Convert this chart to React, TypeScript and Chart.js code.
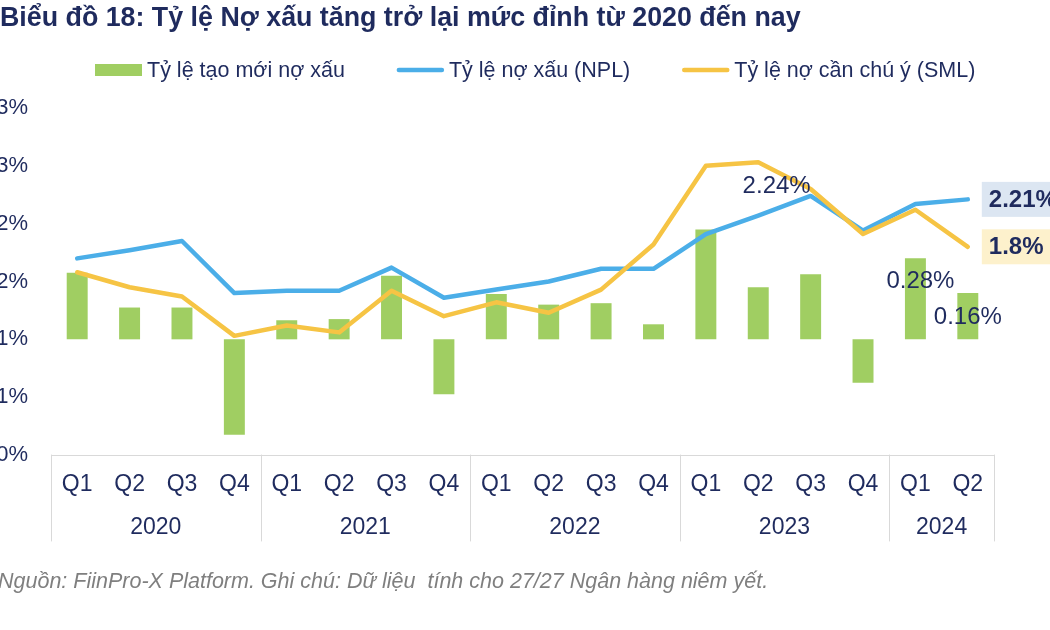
import React, { useEffect, useRef } from "react";
import { Chart, registerables } from "chart.js";

Chart.register(...registerables);

const quarters = ["Q1", "Q2", "Q3", "Q4", "Q1", "Q2", "Q3", "Q4", "Q1", "Q2", "Q3", "Q4", "Q1", "Q2", "Q3", "Q4", "Q1", "Q2"];
const years = ["2020", "2021", "2022", "2023", "2024"];
const yearSpans = [4, 4, 4, 4, 2];
const newNplRate = [0.23, 0.11, 0.11, -0.33, 0.066, 0.07, 0.22, -0.19, 0.157, 0.12, 0.125, 0.052, 0.38, 0.18, 0.225, -0.15, 0.28, 0.16];
const nplRatio = [1.7, 1.77, 1.85, 1.4, 1.42, 1.42, 1.62, 1.36, 1.43, 1.5, 1.61, 1.61, 1.91, 2.07, 2.24, 1.94, 2.17, 2.21];
const smlRatio = [1.58, 1.45, 1.37, 1.03, 1.12, 1.06, 1.42, 1.2, 1.32, 1.23, 1.43, 1.82, 2.5, 2.53, 2.3, 1.91, 2.12, 1.8];
const leftTicks = [0, 0.5, 1, 1.5, 2, 2.5, 3];
const seriesNames = ["Tỷ lệ tạo mới nợ xấu", "Tỷ lệ nợ xấu (NPL)", "Tỷ lệ nợ cần chú ý (SML)"];
const titleText = "Biểu đồ 18: Tỷ lệ Nợ xấu tăng trở lại mức đỉnh từ 2020 đến nay";
const footText = "Nguồn: FiinPro-X Platform. Ghi chú: Dữ liệu  tính cho 27/27 Ngân hàng niêm yết.";

const NAVY = "#1F2B5E";
const GREEN = "#A0CE62";
const BLUE = "#4BAEE8";
const YELLOW = "#F6C444";
const FONT = "'Liberation Sans', Arial, sans-serif";

const decorPlugin = {
  id: "decor",
  afterDatasetsDraw(chart: any) {
    const ctx = chart.ctx;
    const x = chart.scales.x;
    const y = chart.scales.y;
    const y1 = chart.scales.y1;
    ctx.save();
    // point labels
    ctx.fillStyle = NAVY;
    ctx.textBaseline = "middle";
    ctx.textAlign = "center";
    ctx.font = `24px ${FONT}`;
    const i24 = 14;
    ctx.fillText(nplRatio[i24].toFixed(2) + "%", x.getPixelForValue(i24) - 34, y.getPixelForValue(nplRatio[i24]) - 10);
    const b1 = 16;
    ctx.fillText(newNplRate[b1].toFixed(2) + "%", x.getPixelForValue(b1) + 5, y1.getPixelForValue(newNplRate[b1]) + 23);
    const b2 = 17;
    ctx.fillText(newNplRate[b2].toFixed(2) + "%", x.getPixelForValue(b2), y1.getPixelForValue(newNplRate[b2]) + 24);

    // end value boxes
    const last = nplRatio.length - 1;
    const lx = x.getPixelForValue(last);
    const boxes = [
      { v: nplRatio[last], text: nplRatio[last].toFixed(2) + "%", bg: "#DCE6F2" },
      { v: smlRatio[last], text: smlRatio[last].toFixed(1) + "%", bg: "#FDF1CC" },
    ];
    ctx.font = `bold 24px ${FONT}`;
    ctx.textAlign = "left";
    for (const b of boxes) {
      const cy = y.getPixelForValue(b.v);
      ctx.fillStyle = b.bg;
      ctx.fillRect(lx + 14, cy - 17.5, 100, 35);
      ctx.fillStyle = NAVY;
      ctx.fillText(b.text, lx + 21, cy + 1);
    }
    ctx.restore();
  },
  afterDraw(chart: any) {
    const ctx = chart.ctx;
    const x = chart.scales.x;
    const area = chart.chartArea;
    ctx.save();
    // title
    ctx.fillStyle = NAVY;
    ctx.textBaseline = "middle";
    ctx.textAlign = "left";
    ctx.font = `bold 26.8px ${FONT}`;
    ctx.fillText(titleText, 0, 19);

    // legend
    ctx.font = `21.5px ${FONT}`;
    let lx = 95;
    const ly = 70;
    const colors = [GREEN, BLUE, YELLOW];
    seriesNames.forEach((name, i) => {
      if (i === 0) {
        ctx.fillStyle = GREEN;
        ctx.fillRect(lx, ly - 6, 47, 12);
      } else {
        ctx.strokeStyle = colors[i];
        ctx.lineWidth = 4.5;
        ctx.lineCap = "round";
        ctx.beginPath();
        ctx.moveTo(lx + 2, ly);
        ctx.lineTo(lx + 45, ly);
        ctx.stroke();
      }
      ctx.fillStyle = NAVY;
      ctx.fillText(name, lx + 52, ly + 1);
      lx += 52 + ctx.measureText(name).width + 52;
    });

    // year group labels & separators
    const half = (x.getPixelForValue(1) - x.getPixelForValue(0)) / 2;
    ctx.strokeStyle = "#D9D9D9";
    ctx.lineWidth = 1;
    ctx.textAlign = "center";
    ctx.font = `23px ${FONT}`;
    let start = 0;
    years.forEach((yr, g) => {
      const end = start + yearSpans[g] - 1;
      const left = x.getPixelForValue(start) - half;
      const right = x.getPixelForValue(end) + half;
      ctx.beginPath();
      ctx.moveTo(Math.round(left) + 0.5, area.bottom);
      ctx.lineTo(Math.round(left) + 0.5, area.bottom + 86);
      if (g === years.length - 1) {
        ctx.moveTo(Math.round(right) + 0.5, area.bottom);
        ctx.lineTo(Math.round(right) + 0.5, area.bottom + 86);
      }
      ctx.stroke();
      ctx.fillStyle = NAVY;
      ctx.fillText(yr, (left + right) / 2, area.bottom + 73);
      start = end + 1;
    });

    // footnote
    ctx.textAlign = "left";
    ctx.fillStyle = "#7F7F7F";
    ctx.font = `italic 21.5px ${FONT}`;
    ctx.fillText(footText, -2, 582);
    ctx.restore();
  },
};

export default function App() {
  const ref = useRef<HTMLCanvasElement | null>(null);
  useEffect(() => {
    if (!ref.current) return;
    const chart = new Chart(ref.current, {
      type: "bar",
      data: {
        labels: quarters,
        datasets: [
          {
            type: "line",
            label: seriesNames[2],
            data: smlRatio,
            yAxisID: "y",
            borderColor: YELLOW,
            borderWidth: 4.5,
            pointRadius: 0,
            tension: 0,
            borderCapStyle: "round",
            borderJoinStyle: "round",
            order: 0,
          } as any,
          {
            type: "line",
            label: seriesNames[1],
            data: nplRatio,
            yAxisID: "y",
            borderColor: BLUE,
            borderWidth: 4.5,
            pointRadius: 0,
            tension: 0,
            borderCapStyle: "round",
            borderJoinStyle: "round",
            order: 1,
          } as any,
          {
            type: "bar",
            label: seriesNames[0],
            data: newNplRate,
            yAxisID: "y1",
            backgroundColor: GREEN,
            borderWidth: 0,
            barPercentage: 0.4,
            categoryPercentage: 1,
            order: 2,
          } as any,
        ],
      },
      options: {
        responsive: false,
        animation: false,
        layout: { padding: { top: 108, left: 0, right: 56, bottom: 75 } },
        plugins: {
          legend: { display: false },
          title: { display: false },
          tooltip: { enabled: false },
        },
        scales: {
          x: {
            grid: { display: false, drawTicks: false },
            border: { display: true, color: "#D9D9D9", width: 1 },
            ticks: {
              color: NAVY,
              font: { family: FONT, size: 23 },
              padding: 16,
              maxRotation: 0,
              autoSkip: false,
            },
            afterFit(scale: any) {
              scale.height = 100;
            },
          },
          y: {
            position: "left",
            min: 0,
            max: 3,
            afterBuildTicks(scale: any) {
              scale.ticks = leftTicks.map((v) => ({ value: v }));
            },
            grid: { display: false, drawTicks: false },
            border: { display: false },
            ticks: {
              color: NAVY,
              font: { family: FONT, size: 22 },
              padding: 23,
              callback: (v: any) => Math.round(Number(v)) + "%",
            },
            afterFit(scale: any) {
              scale.width = 51;
            },
          },
          y1: {
            position: "right",
            min: -0.4,
            max: 0.8,
            display: false,
          },
        },
      },
      plugins: [decorPlugin],
    });
    return () => chart.destroy();
  }, []);
  return (
    <div style={{ position: "absolute", left: 0, top: 0, width: 1050, height: 630, background: "#fff" }}>
      <canvas ref={ref} width={1050} height={630} style={{ display: "block" }} />
    </div>
  );
}
